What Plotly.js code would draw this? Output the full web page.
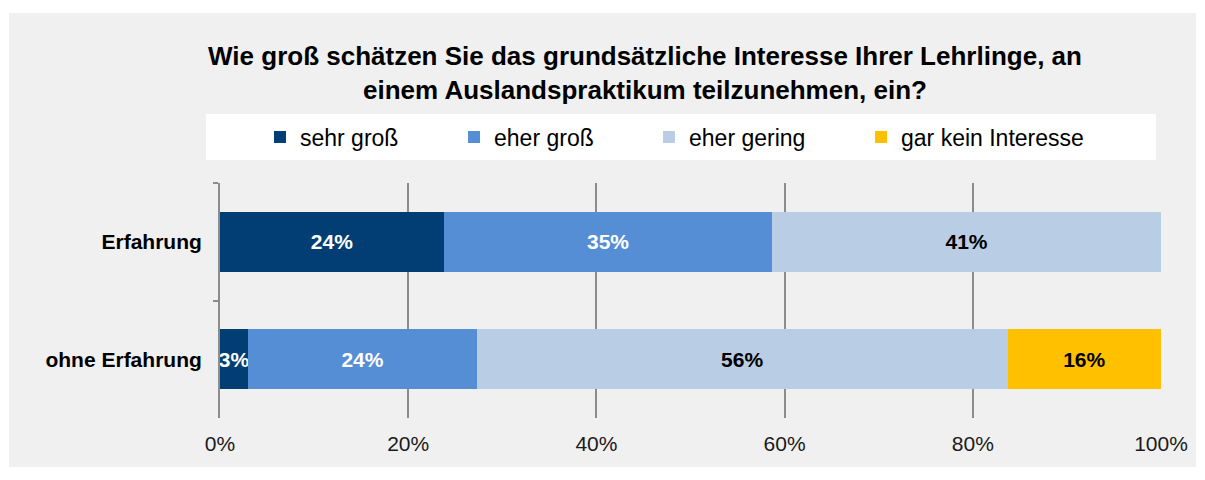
<!DOCTYPE html>
<html>
<head>
<meta charset="utf-8">
<script src="https://cdn.plot.ly/plotly-3.0.1.min.js"></script>
<style>
  html, body { margin: 0; padding: 0; background: #ffffff; }
  #chart { position: absolute; left: 9px; top: 13px; width: 1187px; height: 454px; }
</style>
</head>
<body>
<div id="chart"></div>
<script>
// ---- data ----
const categories = ["Erfahrung", "ohne Erfahrung"];
const seriesNames = ["sehr groß", "eher groß", "eher gering", "gar kein Interesse"];
const sehrGross = [23.8, 3.0];
const eherGross = [34.9, 24.3];
const eherGering = [41.3, 56.4];
const garKeinInteresse = [null, 16.3];
const tickValues = [0, 20, 40, 60, 80, 100];
const tickLabels = ["0%", "20%", "40%", "60%", "80%", "100%"];
const titleText = "Wie groß schätzen Sie das grundsätzliche Interesse Ihrer Lehrlinge, an<br>einem Auslandspraktikum teilzunehmen, ein?";

// ---- styles ----
const colors = ["#023e73", "#558ed5", "#b9cde5", "#ffc000"];
const labelColors = ["#ffffff", "#ffffff", "#000000", "#000000"];
const values = [sehrGross, eherGross, eherGering, garKeinInteresse];
const legendIds = ["legend", "legend2", "legend3", "legend4"];
const legendX = [0.0425, 0.2487, 0.4559, 0.6812];
const FONT = "Liberation Sans, Arial, Helvetica, sans-serif";

const traces = seriesNames.map((name, i) => ({
  type: "bar",
  orientation: "h",
  name: name,
  y: categories,
  x: values[i],
  marker: { color: colors[i], line: { width: 0 } },
  texttemplate: "%{x:.0f}%",
  textposition: "inside",
  insidetextanchor: "middle",
  textangle: 0,
  constraintext: "none",
  cliponaxis: false,
  textfont: { family: FONT, size: 21, color: labelColors[i], weight: "bold" },
  hoverinfo: "name+x",
  legend: legendIds[i]
}));

const layout = {
  width: 1187,
  height: 454,
  paper_bgcolor: "#f0f0f0",
  plot_bgcolor: "#f0f0f0",
  margin: { l: 211, r: 35, t: 170, b: 49 },
  barmode: "stack",
  bargap: 0.49,
  font: { family: FONT, color: "#000000" },
  title: {
    text: titleText,
    font: { family: FONT, size: 26, weight: "bold", color: "#000000" },
    x: 0.5358, xref: "container", xanchor: "center",
    y: 0.885, yref: "container", yanchor: "middle"
  },
  xaxis: {
    range: [0, 100],
    tickvals: tickValues,
    ticktext: tickLabels,
    ticks: "",
    showgrid: true,
    gridcolor: "#8c8c8c",
    gridwidth: 2,
    zeroline: false,
    showline: false,
    tickfont: { family: FONT, size: 21, color: "#1a1a1a" },
    ticklabelstandoff: 11,
    fixedrange: true
  },
  yaxis: {
    type: "category",
    autorange: "reversed",
    showline: true,
    linecolor: "#8c8c8c",
    linewidth: 2,
    ticks: "outside",
    ticklen: 5,
    tickwidth: 2,
    tickcolor: "#8c8c8c",
    tickson: "boundaries",
    showgrid: false,
    zeroline: false,
    tickfont: { family: FONT, size: 21, weight: "bold", color: "#000000" },
    ticklabelstandoff: 12,
    fixedrange: true
  },
  shapes: [{
    type: "rect", xref: "paper", yref: "paper", layer: "below",
    x0: -0.0149, x1: 0.9947, y0: 1.0979, y1: 1.2936,
    fillcolor: "#ffffff", line: { width: 0 }
  }],
  showlegend: true
};

legendIds.forEach((id, i) => {
  layout[id] = {
    orientation: "h",
    x: legendX[i], xanchor: "left",
    y: 1.1957, yanchor: "middle",
    bgcolor: "rgba(0,0,0,0)",
    borderwidth: 0,
    font: { family: FONT, size: 23, color: "#000000" },
    itemwidth: 30,
    itemclick: false,
    itemdoubleclick: false
  };
});

Plotly.newPlot("chart", traces, layout, { displayModeBar: false, responsive: false });
</script>
</body>
</html>
